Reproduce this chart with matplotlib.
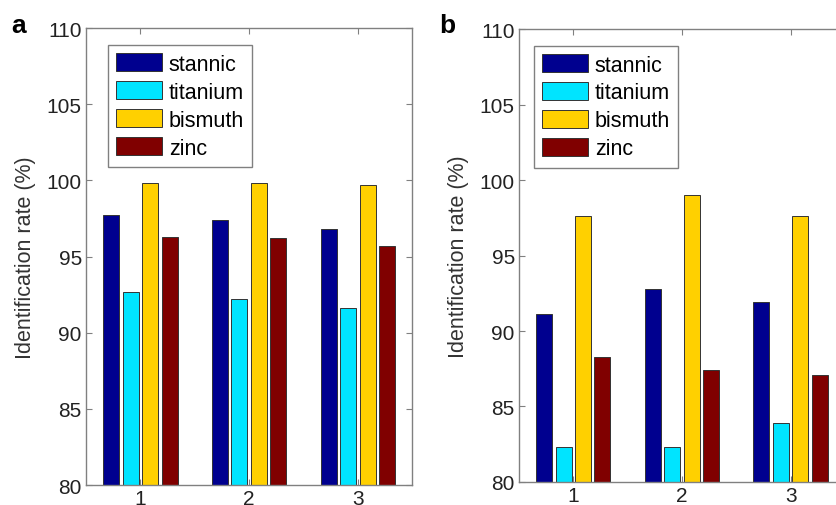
import numpy as np
import matplotlib.pyplot as plt
from matplotlib.ticker import MultipleLocator

plt.rcParams['font.family'] = ['Liberation Sans', 'DejaVu Sans']

# data
groups = [1, 2, 3]
metals = ['stannic', 'titanium', 'bismuth', 'zinc']
colors = ['#00008F', '#00E4FF', '#FFD000', '#800000']

rate_a = {
    'stannic': [97.7, 97.4, 96.8],
    'titanium': [92.7, 92.2, 91.6],
    'bismuth': [99.8, 99.8, 99.7],
    'zinc': [96.3, 96.2, 95.7],
}
rate_b = {
    'stannic': [91.1, 92.8, 91.9],
    'titanium': [82.3, 82.3, 83.9],
    'bismuth': [97.6, 99.0, 97.6],
    'zinc': [88.3, 87.4, 87.1],
}

fig = plt.figure(figsize=(8.37, 5.06), dpi=100)
ax_a = fig.add_axes([0.1027, 0.0395, 0.390, 0.903])
ax_b = fig.add_axes([0.620, 0.0455, 0.3895, 0.895])


def draw(ax, data, legx):
    x = np.array(groups)
    step = 0.179
    for i, m in enumerate(metals):
        ax.bar(x + (i - 1.5) * step, data[m], width=0.147, bottom=0,
               color=colors[i], edgecolor='#333333', linewidth=0.7, label=m)
    ax.set_xlim(0.5, 3.5)
    ax.set_ylim(80, 110)
    ax.set_xticks(groups)
    ax.yaxis.set_major_locator(MultipleLocator(5))
    ax.tick_params(direction='in', length=4, width=0.8, color='#808080',
                   labelsize=15, top=True, right=True, labelcolor='#222222', pad=3)
    for s in ax.spines.values():
        s.set_color('#808080')
        s.set_linewidth(1.0)
    ax.set_ylabel('Identification rate (%)', fontsize=15.5, color='#333333', labelpad=8)
    leg = ax.legend(loc='upper left', bbox_to_anchor=(legx, 0.963), borderaxespad=0,
                    fontsize=15.5, handlelength=2.15, handleheight=0.92, handletextpad=0.3,
                    labelspacing=0.3, borderpad=0.38, fancybox=False, framealpha=1)
    leg.get_frame().set_edgecolor('#808080')
    leg.get_frame().set_linewidth(1.0)


draw(ax_a, rate_a, 0.067)
draw(ax_b, rate_b, 0.046)

fig.text(0.013, 0.935, 'a', fontsize=19, fontweight='bold')
fig.text(0.525, 0.935, 'b', fontsize=19, fontweight='bold')

fig.savefig('out.png', dpi=100)
